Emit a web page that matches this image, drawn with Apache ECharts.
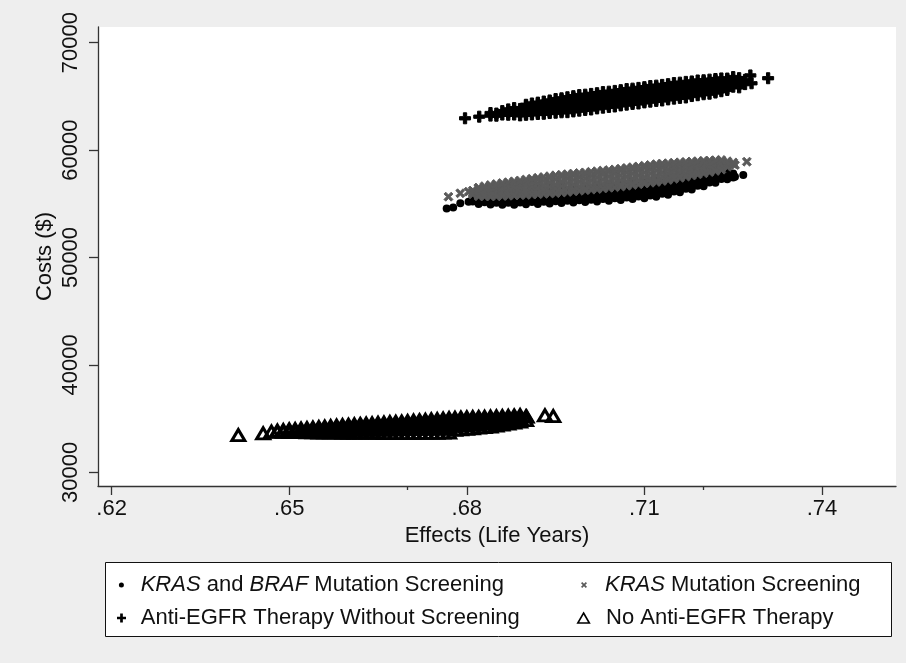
<!DOCTYPE html>
<html><head><meta charset="utf-8">
<script src="https://cdn.jsdelivr.net/npm/echarts@6/dist/echarts.min.js"></script>
<style>html,body{margin:0;padding:0;background:#eeeeee}#c{width:906px;height:663px}</style>
</head><body><div id="c"></div>
<script>
const seriesNames = ['KRAS and BRAF Mutation Screening','KRAS Mutation Screening','Anti-EGFR Therapy Without Screening','No Anti-EGFR Therapy'];
const xTickValues = [0.62,0.65,0.68,0.71,0.74];
const xMinorTickValues = [0.67,0.72];
const yTickValues = [30000,40000,50000,60000,70000];

const krasBrafScreening = [
[.6766,54570],[.6777,54660],[.6789,55050],[.6803,55200],
[.681,55220],[.681,55750],[.682,54980],[.682,55450],[.683,55140],[.683,55670],[.684,54930],[.684,55400],
[.685,55100],[.685,55630],[.686,54910],[.686,55380],[.686,55880],[.687,55100],[.687,55630],[.687,56130],
[.688,54920],[.688,55390],[.688,55890],[.689,55120],[.689,55650],[.689,56150],[.690,54950],[.690,55420],[.690,55920],
[.691,55160],[.691,55690],[.691,56190],[.692,54990],[.692,55460],[.692,55960],[.692,56460],
[.693,55200],[.693,55730],[.693,56230],[.694,55030],[.694,55500],[.694,56000],[.694,56500],
[.695,55240],[.695,55770],[.695,56270],[.696,55070],[.696,55540],[.696,56040],[.696,56540],
[.697,55280],[.697,55810],[.697,56310],[.698,55110],[.698,55580],[.698,56080],[.698,56580],
[.699,55320],[.699,55850],[.699,56350],[.700,55160],[.700,55630],[.700,56130],[.700,56630],
[.701,55380],[.701,55910],[.701,56410],[.702,55220],[.702,55690],[.702,56190],[.702,56690],
[.703,55440],[.703,55970],[.703,56470],[.704,55280],[.704,55750],[.704,56250],[.704,56750],
[.705,55510],[.705,56040],[.705,56540],[.706,55360],[.706,55830],[.706,56330],[.706,56830],
[.707,55590],[.707,56120],[.707,56620],[.708,55440],[.708,55910],[.708,56410],[.708,56910],
[.709,55670],[.709,56200],[.709,56700],[.710,55510],[.710,55980],[.710,56480],[.710,56980],
[.711,55770],[.711,56300],[.711,56800],[.712,55660],[.712,56130],[.712,56630],[.712,57130],
[.713,55940],[.713,56470],[.713,56970],[.714,55850],[.714,56320],[.714,56820],[.714,57320],
[.715,56150],[.715,56680],[.715,57180],[.716,56080],[.716,56550],[.716,57050],[.716,57550],
[.717,56390],[.717,56920],[.717,57420],[.718,56330],[.718,56800],[.718,57300],[.718,57800],
[.719,56670],[.719,57200],[.719,57700],[.720,56630],[.720,57100],[.720,57600],[.720,58100],
[.721,56980],[.721,57510],[.721,58010],[.722,56950],[.722,57420],[.722,57920],[.722,58420],
[.723,57300],[.723,57830],[.723,58330],[.724,57280],[.724,57750],[.724,58250],
[.725,57450],[.725,57820],[.7253,57520],[.7267,57680]
];

const krasScreening = [
[.6769,55660],[.6789,55980],[.6803,56130],
[.681,55880],[.681,56050],[.681,56230],[.682,55790],[.682,56000],[.682,56220],[.682,56430],
[.683,55910],[.683,56160],[.683,56410],[.683,56640],[.684,55800],[.684,56080],[.684,56360],[.684,56640],
[.685,55970],[.685,56270],[.685,56570],[.685,55700],[.686,55860],[.686,56170],[.686,56490],[.686,56800],
[.687,56050],[.687,56380],[.687,56710],[.687,57010],[.688,55920],[.688,56270],[.688,56610],[.688,56960],
[.689,56130],[.689,56490],[.689,56850],[.689,55810],[.690,55990],[.690,56360],[.690,56740],[.690,57110],
[.691,56210],[.691,56600],[.691,56990],[.691,57340],[.692,56060],[.692,56460],[.692,56860],[.692,57260],
[.693,56300],[.693,56710],[.693,57120],[.693,55930],[.694,56140],[.694,56560],[.694,56980],[.694,57400],
[.695,56390],[.695,56820],[.695,57260],[.695,57650],[.696,56230],[.696,56660],[.696,57100],[.696,57530],
[.697,56500],[.697,56930],[.697,57370],[.697,56100],[.698,56340],[.698,56770],[.698,57210],[.698,57640],
[.699,56610],[.699,57040],[.699,57480],[.699,57870],[.700,56450],[.700,56880],[.700,57320],[.700,57750],
[.701,56720],[.701,57150],[.701,57590],[.701,56320],[.702,56560],[.702,56990],[.702,57430],[.702,57860],
[.703,56830],[.703,57260],[.703,57700],[.703,58090],[.704,56670],[.704,57100],[.704,57540],[.704,57970],
[.705,56940],[.705,57370],[.705,57810],[.705,56540],[.706,56790],[.706,57220],[.706,57660],[.706,58090],
[.707,57080],[.707,57510],[.707,57950],[.707,58340],[.708,56930],[.708,57360],[.708,57800],[.708,58230],
[.709,57220],[.709,57650],[.709,58090],[.709,56820],[.710,57070],[.710,57500],[.710,57940],[.710,58370],
[.711,57360],[.711,57790],[.711,58230],[.711,58620],[.712,57210],[.712,57640],[.712,58080],[.712,58510],
[.713,57510],[.713,57930],[.713,58360],[.713,57120],[.714,57390],[.714,57800],[.714,58210],[.714,58620],
[.715,57680],[.715,58070],[.715,58470],[.715,58820],[.716,57570],[.716,57950],[.716,58330],[.716,58710],
[.717,57850],[.717,58210],[.717,58570],[.717,57530],[.718,57770],[.718,58110],[.718,58450],[.718,58790],
[.719,58030],[.719,58350],[.719,58670],[.719,58960],[.720,57960],[.720,58270],[.720,58570],[.720,58880],
[.721,58210],[.721,58490],[.721,58780],[.721,57950],[.722,58160],[.722,58430],[.722,58690],[.722,58960],
[.723,58400],[.723,58630],[.723,58870],[.724,58440],[.724,58700],[.724,58960],
[.725,58700],[.725,58850],[.7253,58610],[.7273,58920],
[.682,55700],[.682,56510],[.683,55690],[.684,55690],[.684,56750],[.685,56840],[.686,55730],[.686,56930],
[.687,55750],[.688,55780],[.688,57090],[.689,57170],[.690,55830],[.690,57260],[.691,55860],[.692,55900],
[.692,57420],[.693,57490],[.694,55970],[.694,57570],[.695,55990],[.696,56050],[.696,57700],[.697,57760],
[.698,56160],[.698,57810],[.699,56210],[.700,56270],[.700,57920],[.701,57980],[.702,56380],[.702,58030],
[.703,56430],[.704,56490],[.704,58140],[.705,58200],[.706,56610],[.706,58270],[.707,56680],[.708,56750],
[.708,58410],[.709,58480],[.710,56890],[.710,58550],[.711,56960],[.712,57030],[.712,58690],[.713,58740],
[.714,57220],[.714,58780],[.715,57320],[.716,57420],[.716,58860],[.717,58890],[.718,57630],[.718,58930],
[.719,57740],[.720,57840],[.720,59000],[.721,59030],[.722,58060],[.722,59060],[.723,58180],[.723,59080]
];

const antiEgfrNoScreening = [
[.6797,62960],[.6821,63110],
[.684,63210],[.684,63450],[.685,63400],[.685,63200],[.686,63310],[.686,63630],
[.687,63290],[.687,63540],[.687,63790],[.688,63310],[.688,63610],[.688,63910],
[.689,63530],[.689,63830],[.689,63230],[.690,63380],[.690,63630],[.690,63870],[.690,64120],
[.691,63560],[.691,63820],[.691,64080],[.691,64340],[.692,63480],[.692,63750],[.692,64030],[.692,64300],
[.693,63670],[.693,63960],[.693,64250],[.693,63380],[.694,63570],[.694,63880],[.694,64180],[.694,64490],
[.695,63770],[.695,64100],[.695,64430],[.695,64750],[.696,63660],[.696,64000],[.696,64340],[.696,64680],
[.697,63880],[.697,64240],[.697,64600],[.697,63530],[.698,63750],[.698,64120],[.698,64500],[.698,64870],
[.699,64010],[.699,64380],[.699,64760],[.699,65120],[.700,63890],[.700,64260],[.700,64640],[.700,65010],
[.701,64150],[.701,64520],[.701,64900],[.701,63780],[.702,64030],[.702,64400],[.702,64780],[.702,65150],
[.703,64290],[.703,64660],[.703,65040],[.703,65400],[.704,64170],[.704,64540],[.704,64920],[.704,65290],
[.705,64430],[.705,64800],[.705,65180],[.705,64060],[.706,64310],[.706,64680],[.706,65060],[.706,65430],
[.707,64570],[.707,64940],[.707,65320],[.707,65680],[.708,64450],[.708,64820],[.708,65200],[.708,65570],
[.709,64710],[.709,65080],[.709,65460],[.709,64340],[.710,64590],[.710,64960],[.710,65340],[.710,65710],
[.711,64850],[.711,65220],[.711,65600],[.711,65960],[.712,64730],[.712,65100],[.712,65480],[.712,65850],
[.713,64990],[.713,65360],[.713,65740],[.713,64620],[.714,64870],[.714,65240],[.714,65620],[.714,65990],
[.715,65130],[.715,65500],[.715,65880],[.715,66240],[.716,65010],[.716,65380],[.716,65760],[.716,66130],
[.717,65270],[.717,65640],[.717,66020],[.717,64900],[.718,65180],[.718,65530],[.718,65890],[.718,66240],
[.719,65430],[.719,65780],[.719,66130],[.719,66480],[.720,65340],[.720,65680],[.720,66020],[.720,66360],
[.721,65580],[.721,65920],[.721,66260],[.721,65250],[.722,65490],[.722,65830],[.722,66160],[.722,66490],
[.723,65750],[.723,66060],[.723,66370],[.723,66670],[.724,65720],[.724,65990],[.724,66270],[.724,66540],
[.725,65900],[.725,66200],[.725,66500],[.725,66800],[.726,65840],[.726,66130],[.726,66420],[.726,66700],
[.727,66140],[.727,66540],[.7279,66950],[.7281,66220],[.7309,66690],
[.690,63280],[.690,64220],[.691,63320],[.692,63360],[.692,64420],[.693,64520],[.694,63450],[.694,64620],
[.695,63480],[.696,63520],[.696,64820],[.697,64920],[.698,63600],[.698,65020],[.699,63670],[.700,63740],
[.700,65160],[.701,65230],[.702,63880],[.702,65300],[.703,63950],[.704,64020],[.704,65440],[.705,65510],
[.706,64160],[.706,65580],[.707,64230],[.708,64300],[.708,65720],[.709,65790],[.710,64440],[.710,65860],
[.711,64510],[.712,64580],[.712,66000],[.713,66070],[.714,64720],[.714,66140],[.715,64790],[.716,64860],
[.716,66280],[.717,66350],[.718,65030],[.718,66390],[.719,65110],[.720,65200],[.720,66500],[.721,66560],
[.722,65360],[.722,66620],[.723,65480],[.724,65600],[.724,66660]
];

const noAntiEgfr = [
[.6414,33470],[.6456,33630],
[.647,33790],[.648,33760],[.648,33880],[.649,33760],[.649,33930],
[.650,33750],[.650,33870],[.650,33990],[.651,33740],[.651,33900],[.651,34030],
[.652,33730],[.652,33900],[.652,34070],[.653,33720],[.653,33920],[.653,34120],
[.654,33710],[.654,33870],[.654,34020],[.654,34160],[.655,33700],[.655,33880],[.655,34050],[.655,34210],
[.656,33690],[.656,33880],[.656,34070],[.656,34260],[.657,33690],[.657,33900],[.657,34100],[.657,34300],
[.658,33690],[.658,33910],[.658,34130],[.658,34350],[.659,33680],[.659,33920],[.659,34160],[.659,34400],
[.660,33670],[.660,33930],[.660,34180],[.660,34430],[.661,33670],[.661,33940],[.661,34200],[.661,34470],
[.662,33660],[.662,33940],[.662,34220],[.662,34500],[.663,33660],[.663,33950],[.663,34250],[.663,34540],
[.664,33660],[.664,33960],[.664,34260],[.664,34560],[.665,33660],[.665,33970],[.665,34290],[.665,34600],
[.666,33650],[.666,33980],[.666,34310],[.666,34630],[.667,33650],[.667,33990],[.667,34330],[.667,34670],
[.668,33650],[.668,34000],[.668,34350],[.668,34700],[.669,33650],[.669,34010],[.669,34370],[.669,34730],
[.670,33650],[.670,34020],[.670,34390],[.670,34770],[.671,33650],[.671,34040],[.671,34430],[.671,34810],
[.672,33660],[.672,34060],[.672,34460],[.672,34850],[.673,33660],[.673,34070],[.673,34480],[.673,34890],
[.674,33670],[.674,34090],[.674,34510],[.674,34930],[.675,33680],[.675,34110],[.675,34540],[.675,34960],
[.676,33690],[.676,34130],[.676,34560],[.676,35000],[.677,33700],[.677,34150],[.677,34600],[.677,35040],
[.678,33940],[.678,34320],[.678,34700],[.678,35080],[.679,33990],[.679,34360],[.679,34730],[.679,35100],
[.680,34040],[.680,34400],[.680,34760],[.680,35120],[.681,34090],[.681,34440],[.681,34790],[.681,35140],
[.682,34150],[.682,34490],[.682,34820],[.682,35150],[.683,34200],[.683,34530],[.683,34850],[.683,35170],
[.684,34250],[.684,34560],[.684,34880],[.684,35190],[.685,34350],[.685,34640],[.685,34920],[.685,35210],
[.686,34440],[.686,34700],[.686,34970],[.686,35230],[.687,34530],[.687,34770],[.687,35010],[.687,35250],
[.688,34620],[.688,34850],[.688,35070],[.688,35290],[.689,34710],[.689,35020],[.689,35320],
[.690,34850],[.690,35200],[.6901,35180],[.6932,35310],[.6946,35240]
];

const FONT = "'Liberation Sans', Arial, Helvetica, sans-serif";
const PLUS = 'path://M3.5,0H6.5V3.5H10V6.5H6.5V10H3.5V6.5H0V3.5H3.5Z';
const CROSS = 'path://M0,2L2,0L5,3L8,0L10,2L7,5L10,8L8,10L5,7L2,10L0,8L3,5Z';
const TRI = 'path://M5,0L10,8.66L0,8.66Z';
const axisColor = '#333';

function legendFmt(name){ return name.replace(/KRAS/g,'{i|KRAS}').replace(/BRAF/g,'{i|BRAF}'); }
function mkLegend(item, left, top, w, h){
  return { data:[item], left:left, top:top, itemWidth:w, itemHeight:h, itemGap:0, padding:0,
    selectedMode:false, formatter:legendFmt, z:5,
    textStyle:{fontFamily:FONT, fontSize:22, color:'#111', lineHeight:26,
      rich:{i:{fontFamily:FONT, fontSize:22, fontStyle:'italic', color:'#111', lineHeight:26}}} };
}

const chart = echarts.init(document.getElementById('c'), null, {renderer:'canvas'});
chart.setOption({
  animation:false,
  backgroundColor:'#eeeeee',
  textStyle:{fontFamily:FONT},
  grid:{left:98, top:27, width:798, height:459, show:true, backgroundColor:'#ffffff', borderWidth:0},
  graphic:[{type:'rect', z:1, shape:{x:105.5, y:562.5, width:786, height:74},
    style:{fill:'#ffffff', stroke:'#111', lineWidth:1}}],
  legend:[
    mkLegend({name:seriesNames[0], icon:'circle', itemStyle:{borderWidth:0}}, 118.9, 572, 28.6, 5),
    mkLegend({name:seriesNames[1], icon:CROSS, itemStyle:{borderWidth:0}}, 581, 572, 32, 6),
    mkLegend({name:seriesNames[2], icon:PLUS, itemStyle:{borderWidth:0}}, 117, 605, 28.6, 9),
    mkLegend({name:seriesNames[3], icon:TRI, itemStyle:{borderWidth:1.6, borderColor:'#000', color:'rgba(0,0,0,0)'}}, 577, 605, 35, 10)
  ],
  xAxis:[{
    type:'value', min:0.6177, max:0.7525,
    axisLine:{show:true, onZero:false, lineStyle:{color:axisColor, width:1.3}},
    axisTick:{show:true, length:9, customValues:xTickValues, lineStyle:{color:axisColor, width:1.3}},
    axisLabel:{customValues:xTickValues, margin:12, fontSize:22, color:'#111', fontFamily:FONT,
      formatter:function(v){ return v.toFixed(2).replace(/^0/,''); }},
    splitLine:{show:false},
    name:'Effects (Life Years)', nameLocation:'middle', nameGap:39, nameMoveOverlap:false,
    nameTextStyle:{fontSize:22, color:'#111', fontFamily:FONT}
  },{
    type:'value', min:0.6177, max:0.7525, position:'bottom',
    axisLine:{show:false}, axisLabel:{show:false}, splitLine:{show:false},
    axisTick:{show:true, length:4, customValues:xMinorTickValues, lineStyle:{color:axisColor, width:1.3}}
  }],
  yAxis:{
    type:'value', min:28725, max:71460,
    axisLine:{show:true, onZero:false, lineStyle:{color:axisColor, width:1.3}},
    axisTick:{show:true, length:9, customValues:yTickValues, lineStyle:{color:axisColor, width:1.3}},
    axisLabel:{customValues:yTickValues, rotate:90, margin:16, fontSize:22, color:'#111', fontFamily:FONT,
      formatter:function(v){ return String(Math.round(v)); }},
    splitLine:{show:false},
    name:'Costs ($)', nameLocation:'middle', nameGap:42, nameRotate:90, nameMoveOverlap:false,
    nameTextStyle:{fontSize:22, color:'#111', fontFamily:FONT}
  },
  series:[
    {name:seriesNames[0], type:'scatter', data:krasBrafScreening, symbol:'circle', symbolSize:8,
      itemStyle:{color:'#000', opacity:1}},
    {name:seriesNames[1], type:'scatter', data:krasScreening, symbol:CROSS, symbolSize:9,
      itemStyle:{color:'#5a5a5a', borderColor:'#5a5a5a', borderWidth:0.9, opacity:1}},
    {name:seriesNames[2], type:'scatter', data:antiEgfrNoScreening, symbol:PLUS, symbolSize:11,
      itemStyle:{color:'#000', borderColor:'#000', borderWidth:1, opacity:1}},
    {name:seriesNames[3], type:'scatter', data:noAntiEgfr, symbol:'triangle', symbolSize:[13,11],
      itemStyle:{color:'rgba(0,0,0,0)', borderColor:'#000', borderWidth:3, opacity:1}}
  ]
});
</script></body></html>
